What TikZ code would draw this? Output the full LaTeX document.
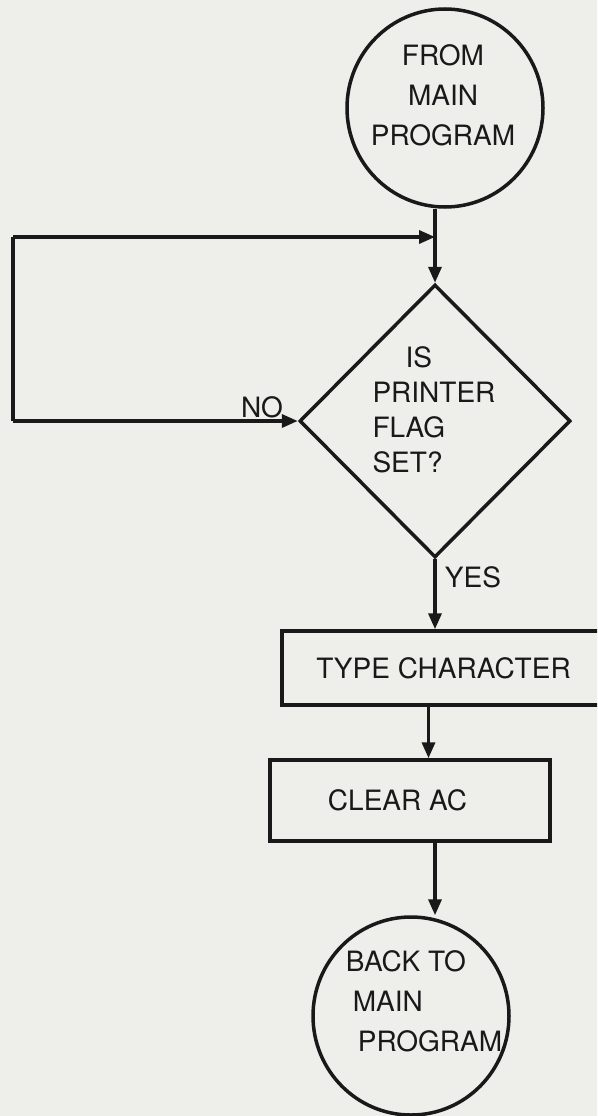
\documentclass[tikz,border=0pt]{standalone}
\usepackage{fontspec}
\setmainfont{TeX Gyre Heros}
\usetikzlibrary{shapes.geometric,arrows.meta}
\definecolor{paper}{RGB}{238,238,235}
\definecolor{ink}{RGB}{25,25,25}

\begin{document}
\begin{tikzpicture}[x=1pt, y=-1pt, line width=3.5pt, color=ink,
  font=\fontsize{28}{40}\selectfont,
  term/.style={draw, ellipse, minimum width=196pt, minimum height=198pt, inner sep=0pt},
  box/.style={draw, rectangle, inner sep=0pt},
  test/.style={draw, diamond, minimum width=271pt, minimum height=273pt, inner sep=0pt},
  arr/.style={-{Triangle[length=16pt,width=13pt]}},
  lbl/.style={inner sep=0pt, align=left}]

\clip (0,0) rectangle (597,1116);
\fill[paper] (0,0) rectangle (597,1116);

\node[term] (start) at (445,108) {};
\node[lbl, align=center] (starttxt) at (443,95) {FROM\\MAIN\\PROGRAM};

\node[test] (ask) at (435,421) {};
\node[lbl, font=\fontsize{28}{35}\selectfont] (asktxt) at (434,410)
  {\hspace*{33pt}IS\\PRINTER\\FLAG\\SET?};

\node[box, minimum width=323pt, minimum height=74pt] (type) at (443.5,668) {TYPE CHARACTER};
\node[box, minimum width=280pt, minimum height=81pt] (clear) at (410,800.5) {CLEAR AC\hspace*{25pt}};

\node[term] (back) at (411,1016) {};
\node[lbl] (backtxt) at (424,1001) {BACK TO\\\hspace*{7pt}MAIN\\\hspace*{12pt}PROGRAM};

\coordinate (lefttop) at (13,237);
\coordinate (leftbot) at (lefttop |- ask.west);
\coordinate (join) at (ask.north |- lefttop);

\draw[arr] (start.south -| ask.north) -- (ask.north);
\draw (leftbot) -- (lefttop);
\draw[arr] (lefttop) -- (join);
\draw[arr] (leftbot) -- (ask.west);
\node[lbl] (no) at (262,407) {NO};

\draw[arr] (ask.south) -- (ask.south |- type.north);
\node[lbl] (yes) at (473,577) {YES};

\draw[arr] ([xshift=-15pt]type.south) -- ([xshift=-15pt]type.south |- clear.north);
\draw[arr] ([xshift=25pt]clear.south) -- ([xshift=25pt]clear.south |- back.north);
\end{tikzpicture}
\end{document}
